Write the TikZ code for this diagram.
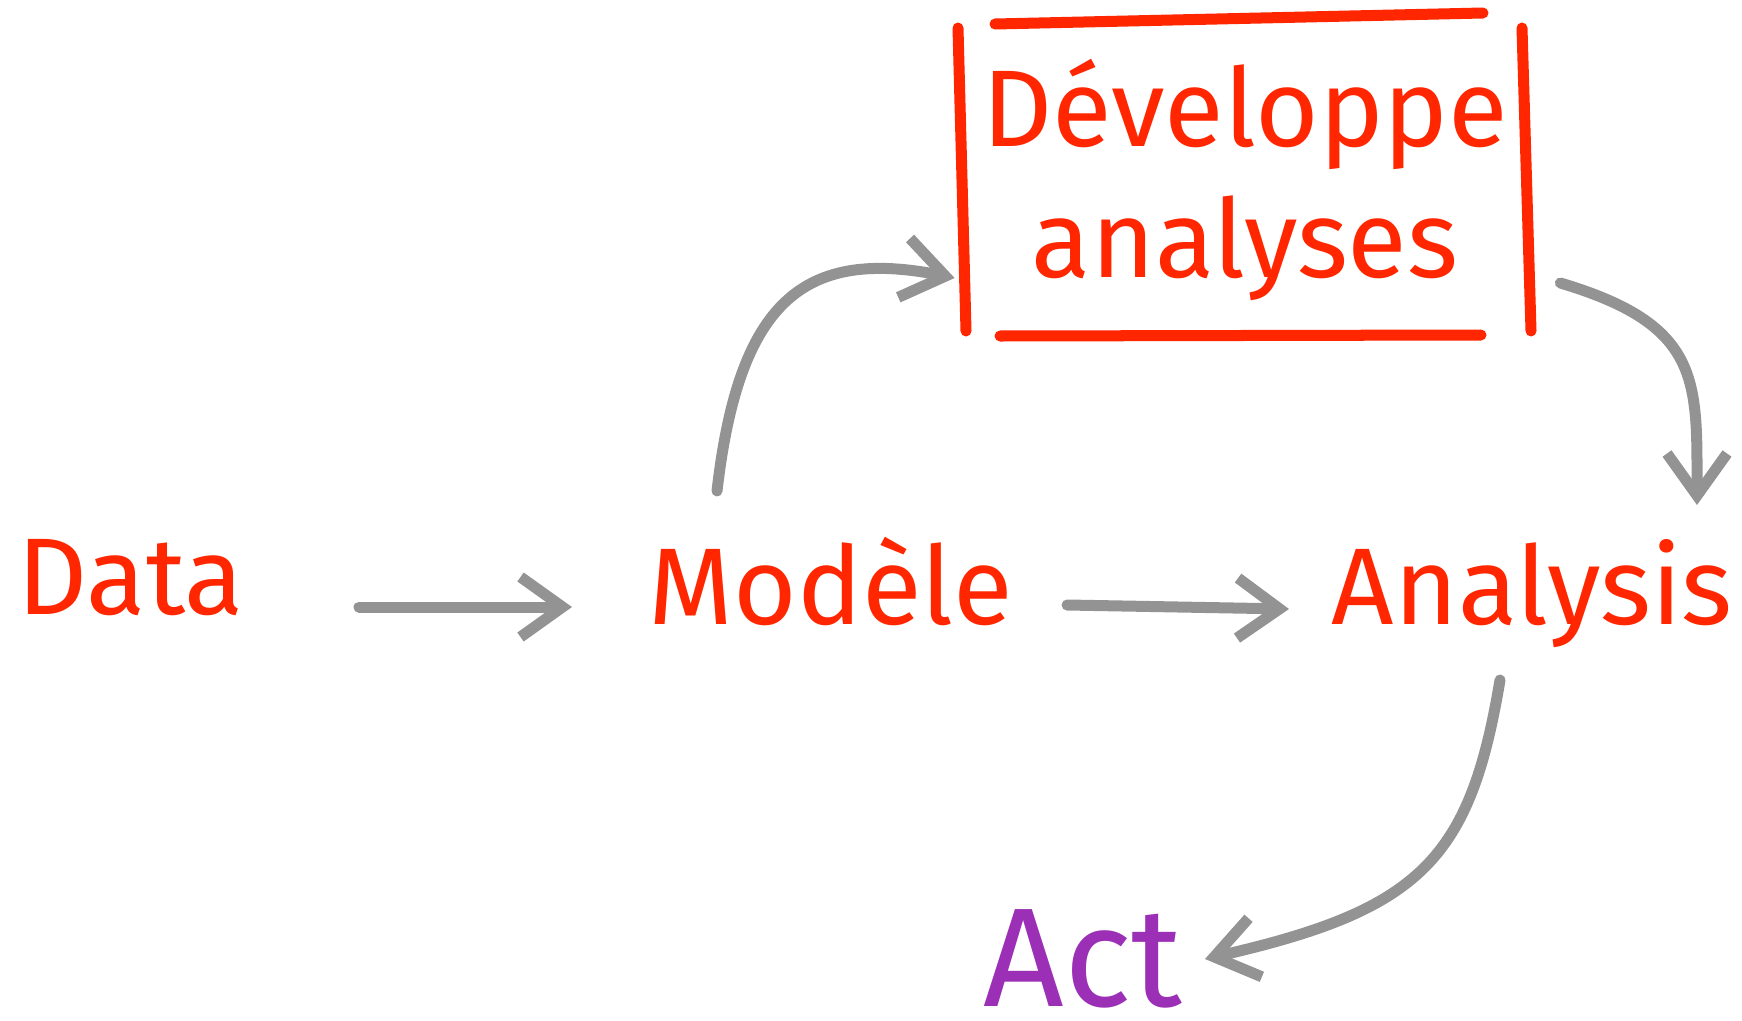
\documentclass[tikz,border=0pt]{standalone}
\usepackage{fontspec}
\setmainfont{Fira Sans}
\usetikzlibrary{calc,arrows.meta}

\definecolor{inkred}{RGB}{255,38,0}
\definecolor{inkviolet}{RGB}{155,47,182}
\definecolor{inkgrey}{RGB}{147,147,147}

\tikzset{
	word/.style={inkred, inner sep=0pt, anchor=base west, font=\fontsize{31}{31}\selectfont},
	flow/.style={draw=inkgrey, line width=0.11cm, line cap=round, line join=round, -{Straight Barb[length=0.42cm, width=0.6cm]}},
	brush/.style={draw=inkred, line width=0.11cm, line cap=round},
}

\begin{document}
\begin{tikzpicture}[x=0.01cm, y=-0.01cm]
			%%%%% START %%%%%
			\useasboundingbox (0,0) rectangle (1742,1021);
			
			\node[word] (data) at (17,614) {Data};
			\node[word] (modele) at (648,624) {Modèle};
			\node[word] (analysis) at (1331,624) {Analysis};
			\node[word, inkviolet, text depth=0pt, font=\fontsize{40}{40}\selectfont] (act) at (983,1006) {Act};
			
			\node[word, anchor=center, align=center, minimum width=5.65cm, minimum height=3.1cm, font=\fontsize{31}{37}\selectfont] (dev) at (1245,180) {Développe\\analyses};
			
			% frame round the box, four loose strokes
			\draw[brush] (995,24) -- (1483,13);
			\draw[brush] (958,28) -- (966,331);
			\draw[brush] (1522,28) -- (1531,331);
			\draw[brush] (1000,336) -- (1481,335);
			
			\draw[flow] ([shift={(342,-7)}]data.base west) -- ([shift={(-76,-17)}]modele.base west);
			\draw[flow] ([shift={(419,-19)}]modele.base west) -- ([shift={(-42,-15)}]analysis.base west);
			
			\draw[flow] ([shift={(69,-133)}]modele.base west) .. controls +(22,-191) and +(-150,-30) .. ([shift={(-7,98)}]dev.west);
			\draw[flow] ([shift={(32,103)}]dev.east) .. controls +(141,42) and +(0,-125) .. ([shift={(366,-119)}]analysis.base west);
			\draw[flow] ([shift={(169,56)}]analysis.base west) .. controls +(-30,180) and +(215,-49) .. ([shift={(222,-47)}]act.base west);
			
			%%%%% END %%%%%
\end{tikzpicture}
\end{document}
